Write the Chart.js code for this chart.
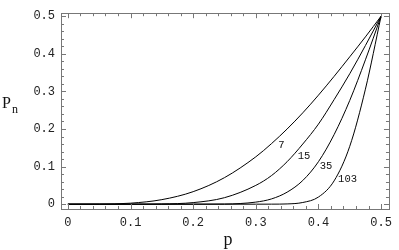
<!DOCTYPE html>
<html>
<head>
<meta charset="utf-8">
<script src="https://cdn.jsdelivr.net/npm/chart.js@4.4.1/dist/chart.umd.min.js"></script>
<style>
html,body{margin:0;padding:0;background:#fff;}
#wrap{width:399px;height:250px;position:relative;}
</style>
</head>
<body>
<div id="wrap"><canvas id="c" width="399" height="250"></canvas></div>
<script>
// Data
const pValues = [0, 0.05, 0.1, 0.15, 0.2, 0.25, 0.3, 0.325, 0.35, 0.375, 0.4, 0.425, 0.45, 0.475, 0.5];
const seriesNames = ["7", "15", "35", "103"];
const pn7   = [0, 0.0002, 0.0027, 0.0121, 0.0333, 0.0706, 0.126, 0.161, 0.200, 0.243, 0.290, 0.340, 0.392, 0.445, 0.5];
const pn15  = [0, 0, 0.00003, 0.0006, 0.0042, 0.0173, 0.050, 0.076, 0.113, 0.160, 0.213, 0.278, 0.347, 0.422, 0.5];
const pn35  = [0, 0, 0, 0, 0.00002, 0.0004, 0.0055, 0.014, 0.032, 0.063, 0.113, 0.185, 0.276, 0.384, 0.5];
const pn103 = [0, 0, 0, 0, 0, 0, 0.00002, 0.0001, 0.0007, 0.0045, 0.019, 0.062, 0.154, 0.306, 0.5];
const xTicks = [0, 0.1, 0.2, 0.3, 0.4, 0.5];
const yTicks = [0, 0.1, 0.2, 0.3, 0.4, 0.5];
const xTickLabels = ["0", "0.1", "0.2", "0.3", "0.4", "0.5"];
const yTickLabels = ["0", "0.1", "0.2", "0.3", "0.4", "0.5"];
const curveLabelP = [0.341, 0.377, 0.412, 0.4465];
const curveLabelY = [0.156, 0.128, 0.102, 0.066];

const allSeries = [pn7, pn15, pn35, pn103];
const datasets = allSeries.map((arr, i) => ({
  label: seriesNames[i],
  data: pValues.map((p, j) => ({x: p, y: arr[j]})),
  borderColor: '#000',
  borderWidth: 1,
  pointRadius: 0,
  showLine: true,
  fill: false,
  cubicInterpolationMode: 'monotone'
}));

const framePlugin = {
  id: 'frame',
  afterDraw(chart) {
    const ctx = chart.ctx;
    const a = chart.chartArea;
    const xs = chart.scales.x, ys = chart.scales.y;
    ctx.save();
    ctx.strokeStyle = '#777';
    ctx.lineWidth = 1;
    ctx.strokeRect(Math.round(a.left) + 0.5, Math.round(a.top) + 0.5, Math.round(a.right - a.left), Math.round(a.bottom - a.top));
    ctx.beginPath();
    for (let k = -1; k <= 26; k++) {
      const v = k * 0.02;
      const major = (k % 5 === 0);
      const len = major ? 5 : 3;
      const px = xs.getPixelForValue(v);
      if (px > a.left + 1 && px < a.right - 1) {
        const xx = Math.round(px) + 0.5;
        ctx.moveTo(xx, a.bottom); ctx.lineTo(xx, a.bottom - len);
        ctx.moveTo(xx, a.top); ctx.lineTo(xx, a.top + len);
      }
      const py = ys.getPixelForValue(v);
      if (py > a.top + 1 && py < a.bottom - 1) {
        const yy = Math.round(py) + 0.5;
        ctx.moveTo(a.left, yy); ctx.lineTo(a.left + len, yy);
        ctx.moveTo(a.right, yy); ctx.lineTo(a.right - len, yy);
      }
    }
    ctx.stroke();
    // curve labels
    ctx.fillStyle = '#111';
    ctx.font = '10.5px "Liberation Mono", monospace';
    ctx.textAlign = 'center';
    ctx.textBaseline = 'middle';
    seriesNames.forEach((s, i) => {
      ctx.fillText(s, xs.getPixelForValue(curveLabelP[i]), ys.getPixelForValue(curveLabelY[i]));
    });
    // axis titles
    ctx.textBaseline = 'alphabetic';
    ctx.textAlign = 'left';
    ctx.font = '16px "Liberation Serif", serif';
    ctx.fillText('P', 2, 108);
    ctx.font = '12px "Liberation Serif", serif';
    ctx.fillText('n', 12, 113);
    ctx.textAlign = 'center';
    ctx.font = '18px "Liberation Serif", serif';
    ctx.fillText('p', 228, 245);
    ctx.restore();
  }
};

new Chart(document.getElementById('c'), {
  type: 'scatter',
  data: { datasets },
  options: {
    responsive: false,
    animation: false,
    devicePixelRatio: 1,
    layout: { padding: { left: 0, right: 5, top: 5, bottom: 0 } },
    plugins: { legend: { display: false }, tooltip: { enabled: false } },
    scales: {
      x: {
        type: 'linear',
        min: -0.011, max: 0.5126,
        afterBuildTicks: s => { s.ticks = xTicks.map(v => ({value: v})); },
        afterFit: s => { s.height = 41; },
        grid: { display: false, drawTicks: false },
        border: { display: false },
        ticks: {
          padding: 7,
          color: '#222',
          font: { family: '"Liberation Mono", monospace', size: 12 },
          maxRotation: 0,
          autoSkip: false,
          callback: (v) => xTickLabels[xTicks.findIndex(t => Math.abs(t - v) < 1e-9)]
        }
      },
      y: {
        type: 'linear',
        min: -0.0128, max: 0.508,
        afterBuildTicks: s => { s.ticks = yTicks.map(v => ({value: v})); },
        afterFit: s => { s.width = 61; },
        grid: { display: false, drawTicks: false },
        border: { display: false },
        ticks: {
          padding: 6,
          color: '#222',
          font: { family: '"Liberation Mono", monospace', size: 12 },
          autoSkip: false,
          callback: (v) => yTickLabels[yTicks.findIndex(t => Math.abs(t - v) < 1e-9)]
        }
      }
    }
  },
  plugins: [framePlugin]
});
</script>
</body>
</html>
